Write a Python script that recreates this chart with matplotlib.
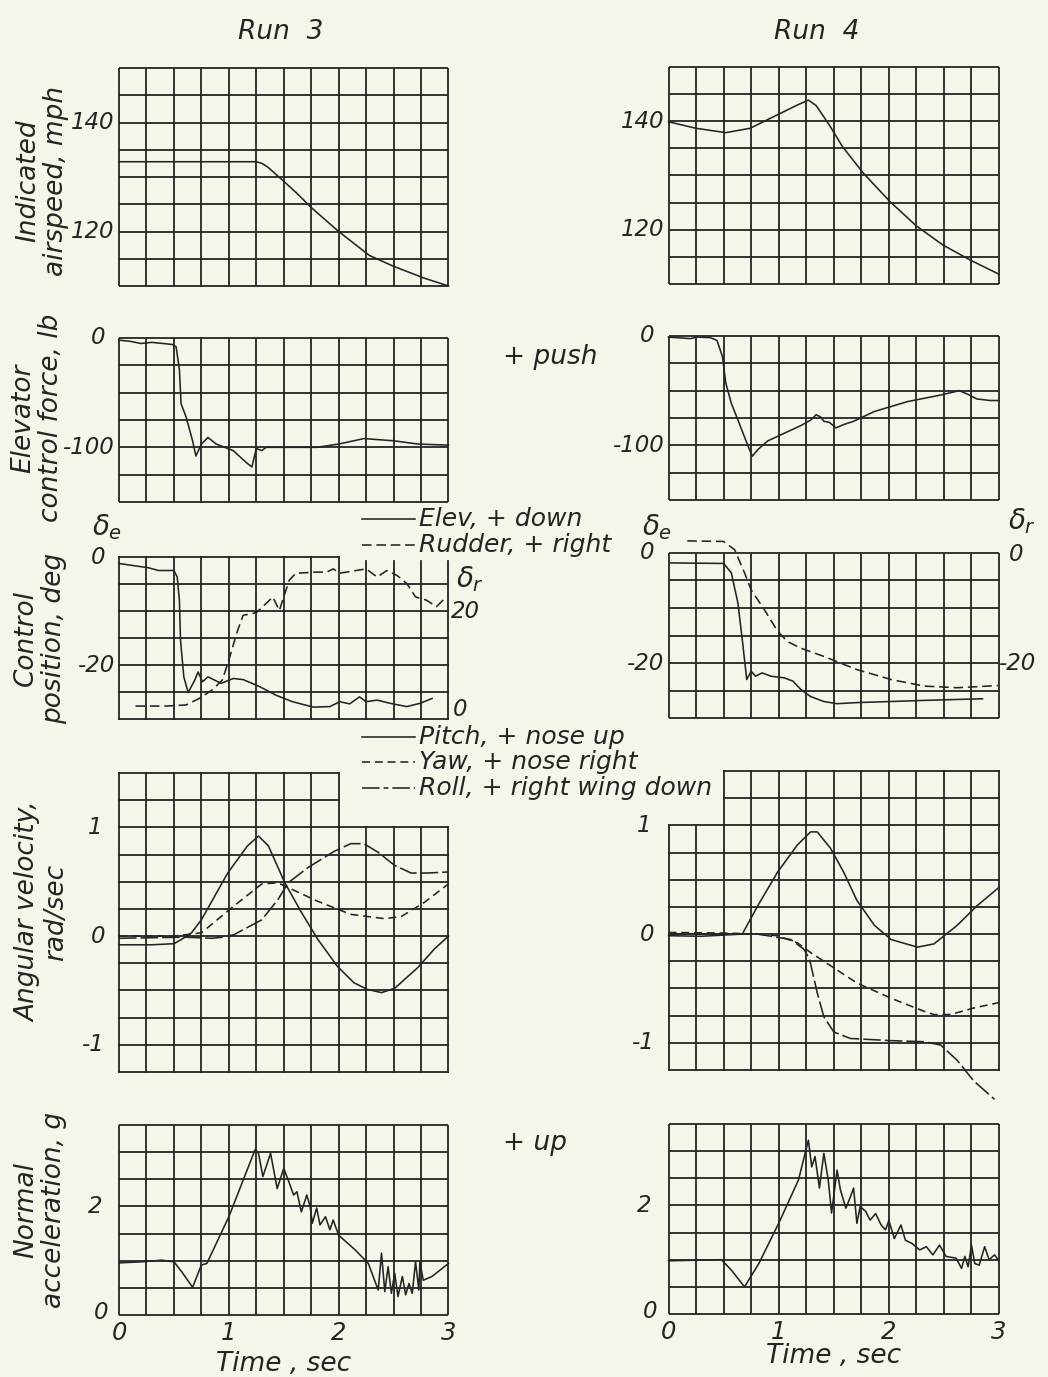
import numpy as np
import matplotlib
matplotlib.use('Agg')
import matplotlib.pyplot as plt
from matplotlib.lines import Line2D

# ---------------- data ----------------
run_titles = ['Run  3', 'Run  4']

# Indicated airspeed, mph
t_as3 = [0, 0.5, 1.0, 1.25, 1.3, 1.35, 1.49, 1.62, 1.75, 2.0, 2.28, 2.49, 2.77, 3.0]
as3 = [132.8, 132.8, 132.8, 132.8, 132.5, 131.9, 129.4, 127.0, 124.4, 120.0, 115.6, 113.7, 111.5, 110.0]
t_as4 = [0, 0.25, 0.52, 0.74, 1.01, 1.16, 1.27, 1.34, 1.46, 1.58, 1.77, 2.01, 2.25, 2.49, 2.74, 3.0]
as4 = [139.9, 138.7, 137.9, 138.7, 141.4, 142.9, 143.9, 142.9, 139.3, 135.3, 130.4, 125.2, 120.7, 117.2, 114.4, 111.8]

# Elevator control force, lb
t_ef3 = [0, 0.1, 0.2, 0.3, 0.4, 0.49, 0.52, 0.55, 0.565, 0.61, 0.67, 0.70, 0.75, 0.81, 0.885,
         1.04, 1.16, 1.21, 1.25, 1.30, 1.34, 1.8, 2.0, 2.23, 2.5, 2.72, 3.0]
ef3 = [-2, -3, -5, -4, -5, -6, -8, -29, -60, -72, -94, -108, -97, -91, -97,
       -103, -114, -118, -101, -103, -100, -100, -97, -92, -94, -97, -98]
t_ef4 = [0, 0.2, 0.26, 0.38, 0.44, 0.49, 0.52, 0.57, 0.63, 0.70, 0.76, 0.81, 0.90, 1.05, 1.20,
         1.29, 1.34, 1.38, 1.41, 1.46, 1.52, 1.59, 1.68, 1.87, 2.17, 2.47, 2.64, 2.71, 2.80, 2.92, 3.0]
ef4 = [-1, -2.4, -1, -1.5, -4, -19, -43, -61.5, -76.7, -95, -110, -104, -96, -89, -82,
       -77, -72, -74, -78, -79, -84, -81, -78, -69, -60, -54, -50, -53, -57.6, -59, -59]

# Control position, deg (elevator solid, rudder dashed)
t_de3 = [0, 0.27, 0.36, 0.5, 0.53, 0.55, 0.56, 0.59, 0.63, 0.69, 0.72, 0.76, 0.81, 0.87, 0.93,
         1.04, 1.13, 1.28, 1.43, 1.58, 1.77, 1.92, 2.01, 2.1, 2.19, 2.25, 2.35, 2.47, 2.62, 2.74, 2.85]
de3 = [-1.2, -2.0, -2.5, -2.5, -3.7, -8, -15.4, -22.2, -25.1, -22.8, -21.3, -23.1, -22.2, -22.8, -23.4,
       -22.5, -22.7, -24.0, -25.6, -26.8, -27.8, -27.7, -26.8, -27.2, -25.9, -26.8, -26.5, -27.1, -27.7, -27.1, -26.2]
t_dr3 = [0.15, 0.43, 0.61, 0.73, 0.85, 0.94, 1.0, 1.07, 1.13, 1.25, 1.34, 1.40, 1.46, 1.49, 1.55,
         1.61, 1.8, 1.89, 1.95, 2.01, 2.13, 2.25, 2.35, 2.44, 2.53, 2.62, 2.70, 2.80, 2.89, 2.98]
dr3 = [2.4, 2.4, 2.6, 3.8, 5.4, 7.2, 10.9, 15.8, 19.2, 19.7, 21.4, 22.6, 20.1, 22.0, 25.7,
       27.0, 27.2, 27.2, 27.8, 27.0, 27.4, 27.8, 26.3, 27.5, 26.6, 25.1, 22.6, 22.0, 20.8, 22.6]
t_de4 = [0.02, 0.5, 0.57, 0.63, 0.67, 0.71, 0.75, 0.79, 0.85, 0.93, 1.05, 1.13, 1.2, 1.29, 1.41,
         1.53, 1.71, 2.02, 2.32, 2.85]
de4 = [-1.8, -1.9, -3.6, -9.1, -15.8, -23, -21.5, -22.4, -21.8, -22.4, -22.7, -23.3, -24.8, -26.1, -27.0,
       -27.4, -27.2, -27.0, -26.8, -26.5]
t_dr4 = [0.17, 0.5, 0.6, 0.69, 0.75, 0.87, 0.99, 1.08, 1.2, 1.41, 1.71, 2.02, 2.32, 2.62, 2.99]
dr4 = [2.2, 2.1, 0.6, -3.6, -6.7, -10.3, -14.2, -16.1, -17.3, -18.8, -21.2, -23.0, -24.2, -24.5, -24.1]

# Angular velocity, rad/sec
t_p3 = [0, 0.3, 0.5, 0.57, 0.66, 0.75, 0.99, 1.17, 1.27, 1.36, 1.51, 1.66, 1.81, 1.99, 2.14,
        2.26, 2.39, 2.51, 2.72, 2.87, 3.0]
p3 = [-0.08, -0.08, -0.07, -0.03, 0.03, 0.15, 0.58, 0.83, 0.92, 0.83, 0.49, 0.22, -0.03, -0.28, -0.43,
      -0.49, -0.52, -0.48, -0.29, -0.12, 0.0]
t_y3 = [0, 0.5, 0.75, 1.05, 1.3, 1.45, 1.51, 1.81, 2.11, 2.42, 2.57, 2.78, 3.0]
y3 = [0.0, 0.0, 0.03, 0.28, 0.48, 0.49, 0.46, 0.32, 0.2, 0.16, 0.18, 0.31, 0.48]
t_r3 = [0, 0.6, 0.85, 0.95, 1.05, 1.3, 1.45, 1.54, 1.72, 1.96, 2.11, 2.23, 2.36, 2.51, 2.66, 2.81, 3.0]
r3 = [-0.02, -0.01, -0.02, -0.01, 0.015, 0.15, 0.34, 0.49, 0.63, 0.78, 0.85, 0.85, 0.77, 0.65, 0.58, 0.58, 0.59]
t_p4 = [0, 0.3, 0.67, 0.81, 0.99, 1.17, 1.29, 1.35, 1.47, 1.59, 1.71, 1.87, 2.02, 2.26, 2.41, 2.62, 2.8, 3.0]
p4 = [-0.015, -0.02, 0.0, 0.26, 0.57, 0.82, 0.94, 0.94, 0.79, 0.57, 0.31, 0.08, -0.05, -0.12, -0.09, 0.08, 0.26, 0.43]
t_y4 = [0, 0.5, 0.81, 0.99, 1.17, 1.29, 1.47, 1.71, 2.02, 2.32, 2.41, 2.56, 2.77, 3.0]
y4 = [0.015, 0.01, 0.0, -0.015, -0.08, -0.17, -0.29, -0.45, -0.59, -0.71, -0.74, -0.74, -0.68, -0.63]
t_r4 = [0, 0.5, 0.81, 1.11, 1.23, 1.28, 1.35, 1.41, 1.5, 1.65, 2.02, 2.32, 2.47, 2.62, 2.77, 2.96]
r4 = [0.0, 0.0, 0.0, -0.05, -0.14, -0.23, -0.54, -0.76, -0.9, -0.96, -0.98, -0.99, -1.02, -1.16, -1.35, -1.52]

# Normal acceleration, g
t_n3 = [0, 0.21, 0.39, 0.5, 0.57, 0.67, 0.75, 0.8, 1.0, 1.24, 1.27, 1.31, 1.38, 1.44, 1.5, 1.54, 1.59,
        1.62, 1.66, 1.71, 1.74, 1.76, 1.8, 1.83, 1.88, 1.92, 1.95, 2.0, 2.15, 2.27, 2.36, 2.39, 2.42,
        2.45, 2.48, 2.51, 2.54, 2.58, 2.61, 2.64, 2.67, 2.7, 2.73, 2.74, 2.77, 2.85, 3.0]
n3 = [0.96, 0.98, 1.01, 0.98, 0.8, 0.51, 0.92, 0.95, 1.81, 3.05, 2.98, 2.55, 2.98, 2.33, 2.7, 2.49, 2.21,
      2.27, 1.9, 2.21, 2.0, 1.69, 1.97, 1.66, 1.81, 1.57, 1.75, 1.47, 1.2, 0.95, 0.46, 1.14, 0.43,
      0.89, 0.4, 0.77, 0.34, 0.71, 0.37, 0.58, 0.4, 0.98, 0.46, 0.98, 0.64, 0.71, 0.95]
t_n4 = [0, 0.48, 0.57, 0.69, 0.82, 1.0, 1.18, 1.24, 1.27, 1.3, 1.33, 1.37, 1.41, 1.45, 1.48, 1.53,
        1.56, 1.61, 1.65, 1.68, 1.71, 1.74, 1.79, 1.83, 1.88, 1.93, 1.97, 2.0, 2.05, 2.11, 2.15, 2.21,
        2.28, 2.34, 2.4, 2.46, 2.52, 2.61, 2.66, 2.69, 2.72, 2.75, 2.78, 2.82, 2.87, 2.91, 2.96, 3.0]
n4 = [0.98, 1.0, 0.81, 0.5, 0.93, 1.67, 2.47, 2.96, 3.2, 2.71, 2.9, 2.32, 2.96, 2.47, 1.86, 2.65,
      2.29, 1.95, 2.15, 2.32, 1.67, 1.98, 1.89, 1.73, 1.85, 1.64, 1.55, 1.72, 1.39, 1.64, 1.36, 1.3,
      1.18, 1.24, 1.09, 1.27, 1.06, 1.03, 0.84, 1.06, 0.87, 1.27, 0.93, 0.9, 1.24, 1.0, 1.09, 0.98]

ylabels = ['Indicated\nairspeed, mph', 'Elevator\ncontrol force, lb', 'Control\nposition, deg',
           'Angular velocity,\nrad/sec', 'Normal\nacceleration, g']
x_ticks = [0, 1, 2, 3]

# ---------------- style ----------------
BG = '#f7f5ea'
INK = '#242424'
GLW = 1.3
CLW = 1.15
FONT = dict(family='DejaVu Sans', style='italic', color=INK)
FS = 19      # labels, titles
FSL = 18     # legend entries
FST = 16.5   # tick numbers
plt.rcParams['mathtext.fontset'] = 'dejavusans'

W, H = 1048, 1377
fig = plt.figure(figsize=(W / 100, H / 100), dpi=100)
fig.patch.set_facecolor(BG)


def fx(x):
    return x / W


def fy(y):
    return 1 - y / H


def add_ax(x0, y0, x1, y1, ylim):
    ax = fig.add_axes([fx(x0), fy(y1), (x1 - x0) / W, (y1 - y0) / H])
    ax.set_xlim(0, 3)
    ax.set_ylim(*ylim)
    ax.axis('off')
    return ax


def grid(ax, ys, ylo, yhi, xs=None):
    xs = np.arange(0, 3.001, 0.25) if xs is None else xs
    for v in ys:
        ax.plot([0, 3], [v, v], color=INK, lw=GLW, clip_on=False, solid_capstyle='butt')
    for t in xs:
        ax.plot([t, t], [ylo, yhi], color=INK, lw=GLW, clip_on=False, solid_capstyle='butt')


def ylab(ax, v, s, dx=-3):
    ax.annotate(s, (0, v), xytext=(dx, 0), textcoords='offset points', ha='right', va='center',
                fontsize=FST, **FONT)


def curve(ax, t, v, dashes=None):
    ln, = ax.plot(t, v, color=INK, lw=CLW, clip_on=False)
    if dashes:
        ln.set_dashes(dashes)
    return ln


LX = (119, 448.5)
RX = (668.5, 999)

# ---------------- Row 1: airspeed ----------------
a1 = add_ax(LX[0], 68, LX[1], 286, (110, 150))
b1 = add_ax(RX[0], 67, RX[1], 284, (110, 150))
for ax in (a1, b1):
    grid(ax, np.arange(110, 150.1, 5), 110, 150)
    ylab(ax, 140, '140')
    ylab(ax, 120, '120')
curve(a1, t_as3, as3)
curve(b1, t_as4, as4)

# ---------------- Row 2: elevator force ----------------
a2 = add_ax(LX[0], 338, LX[1], 502, (-150, 0))
b2 = add_ax(RX[0], 336, RX[1], 500, (-150, 0))
for ax in (a2, b2):
    grid(ax, np.arange(-150, 0.1, 25), -150, 0)
    ylab(ax, 0, '0', dx=-10)
    ylab(ax, -100, '-100')
curve(a2, t_ef3, ef3)
curve(b2, t_ef4, ef4)

# ---------------- Row 3: control position ----------------
a3 = add_ax(LX[0], 557, LX[1], 719, (-30, 0))
b3 = add_ax(RX[0], 553, RX[1], 718, (-30, 0))
# left grid: top line only to t=2, verticals beyond t=2 start slightly lower
for v in np.arange(-30, -4.9, 5):
    a3.plot([0, 3], [v, v], color=INK, lw=GLW, clip_on=False)
a3.plot([0, 2], [0, 0], color=INK, lw=GLW, clip_on=False)
for t in np.arange(0, 3.001, 0.25):
    top = 0 if t <= 2.0 else -0.7
    a3.plot([t, t], [-30, top], color=INK, lw=GLW, clip_on=False)
grid(b3, np.arange(-30, 0.1, 5), -30, 0)
for ax in (a3, b3):
    ylab(ax, 0, '0', dx=-10)
    ylab(ax, -20, '-20')
curve(a3, t_de3, de3)
a3r = a3.twinx()
a3r.set_ylim(0, 30)
a3r.axis('off')
curve(a3r, t_dr3, dr3, dashes=(6, 3))
curve(b3, t_de4, de4)
b3r = b3.twinx()
b3r.set_ylim(-30, 0)
b3r.axis('off')
curve(b3r, t_dr4, dr4, dashes=(6, 3))
a3r.annotate('20', (3, 20), xytext=(2, 0), textcoords='offset points', ha='left', va='center',
             fontsize=FST, **FONT)
a3r.annotate('0', (3, 0), xytext=(3, 7), textcoords='offset points', ha='left', va='center',
             fontsize=FST, **FONT)
b3r.annotate('0', (3, 0), xytext=(7, -1), textcoords='offset points', ha='left', va='center',
             fontsize=FST, **FONT)
b3r.annotate('-20', (3, -20), xytext=(0, 0), textcoords='offset points', ha='left', va='center',
             fontsize=FST, **FONT)
fig.text(fx(107), fy(527), r'$\delta_e$', fontsize=FS + 1, color=INK, ha='center', va='center')
fig.text(fx(657), fy(527), r'$\delta_e$', fontsize=FS + 1, color=INK, ha='center', va='center')
fig.text(fx(470), fy(579), r'$\delta_r$', fontsize=FS + 1, color=INK, ha='center', va='center')
fig.text(fx(1022), fy(521), r'$\delta_r$', fontsize=FS + 1, color=INK, ha='center', va='center')

# ---------------- Row 4: angular velocity ----------------
a4 = add_ax(LX[0], 773, LX[1], 1072, (-1.25, 1.5))
b4 = add_ax(RX[0], 771, RX[1], 1070, (-1.25, 1.5))


def ang_grid(ax, ext_lo, ext_hi):
    for v in np.arange(-1.25, 1.01, 0.25):
        ax.plot([0, 3], [v, v], color=INK, lw=GLW, clip_on=False)
    for v in (1.25, 1.5):
        ax.plot([ext_lo, ext_hi], [v, v], color=INK, lw=GLW, clip_on=False)
    for t in np.arange(0, 3.001, 0.25):
        top = 1.5 if ext_lo - 1e-6 <= t <= ext_hi + 1e-6 else 1.0
        ax.plot([t, t], [-1.25, top], color=INK, lw=GLW, clip_on=False)


ang_grid(a4, 0, 2.0)
ang_grid(b4, 0.5, 3.0)
for ax in (a4, b4):
    ylab(ax, 1, '1', dx=-12)
    ylab(ax, 0, '0', dx=-10)
    ylab(ax, -1, '-1', dx=-10)
curve(a4, t_p3, p3)
curve(a4, t_y3, y3, dashes=(5, 3))
curve(a4, t_r3, r3, dashes=(11, 2.5))
curve(b4, t_p4, p4)
curve(b4, t_y4, y4, dashes=(5, 3))
curve(b4, t_r4, r4, dashes=(11, 2.5))

# ---------------- Row 5: normal acceleration ----------------
a5 = add_ax(LX[0], 1125, LX[1], 1315, (0, 3.5))
b5 = add_ax(RX[0], 1124, RX[1], 1314, (0, 3.5))
for ax, dy in ((a5, -26), (b5, -21)):
    grid(ax, np.arange(0, 3.51, 0.5), 0, 3.5)
    ylab(ax, 2, '2', dx=-12)
    ax.annotate('0', (0, 0), xytext=(-8, 2), textcoords='offset points', ha='right', va='center',
                fontsize=FST, **FONT)
    for xt in x_ticks:
        ax.annotate(str(xt), (xt, 0), xytext=(0, -4), textcoords='offset points', ha='center',
                    va='top', fontsize=FST + 1, **FONT)
    ax.annotate('Time , sec', (1.5, 0), xytext=(0, dy), textcoords='offset points', ha='center',
                va='top', fontsize=FS, **FONT)
curve(a5, t_n3, n3)
curve(b5, t_n4, n4)

# ---------------- titles, y labels, notes ----------------
fig.text(fx(281), fy(32), run_titles[0], fontsize=FS, ha='center', va='center', **FONT)
fig.text(fx(817), fy(32), run_titles[1], fontsize=FS, ha='center', va='center', **FONT)

ylab_pos = [(42, 181), (37, 418), (40, 638), (42, 912), (40, 1210)]
for s, (x, y) in zip(ylabels, ylab_pos):
    fig.text(fx(x), fy(y), s, rotation=90, fontsize=FS, ha='center', va='center',
             linespacing=1.1, multialignment='center', **FONT)

fig.text(fx(503), fy(357), '+ push', fontsize=FS, ha='left', va='center', **FONT)
fig.text(fx(503), fy(1143), '+ up', fontsize=FS, ha='left', va='center', **FONT)


def legend_entry(y, label, dashes=None, x0=362, x1=415):
    ln = Line2D([fx(x0), fx(x1)], [fy(y), fy(y)], transform=fig.transFigure, color=INK, lw=CLW)
    if dashes:
        ln.set_dashes(dashes)
    fig.add_artist(ln)
    fig.text(fx(x1 + 4), fy(y), label, fontsize=FSL, ha='left', va='center', **FONT)


legend_entry(519, 'Elev, + down')
legend_entry(545, 'Rudder, + right', dashes=(6, 3))
legend_entry(737, 'Pitch, + nose up')
legend_entry(762, 'Yaw, + nose right', dashes=(5, 3))
legend_entry(788, 'Roll, + right wing down', dashes=(11, 2.5, 3, 2.5))

fig.savefig('out.png', dpi=100, facecolor=BG)
